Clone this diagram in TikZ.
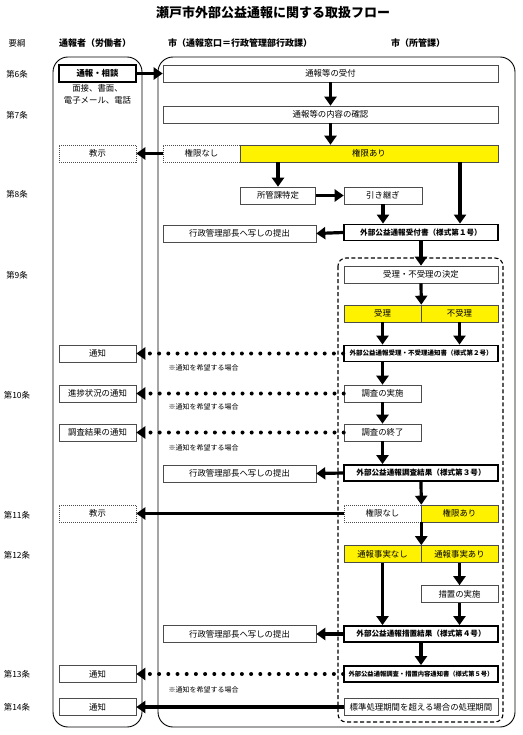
\documentclass[tikz,border=0pt]{standalone}
\usepackage{fontspec}
\setmainfont{Noto Sans CJK JP}
\usetikzlibrary{arrows.meta}
\begin{document}
\begin{tikzpicture}[x=1pt,y=-1pt,
  every node/.style={font=\fontsize{8.4}{9}\selectfont},
  box/.style={draw=black!70,line width=.6pt,fill=white,minimum height=17,inner sep=0},
  dbox/.style={box,dash pattern=on 1pt off 1pt},
  ybox/.style={box,fill=yellow},
  fbox/.style={box,draw=black,line width=1.8pt,minimum height=16,font=\fontsize{7.6}{8}\selectfont\bfseries},
  hd/.style={font=\fontsize{9}{10}\selectfont\bfseries},
  memo/.style={anchor=west,font=\fontsize{7}{8}\selectfont},
  ar/.style={line width=3.2pt,-{Triangle[width=12pt,length=9pt]}},
  dotar/.style={ar,line width=4pt,line cap=round,dash pattern=on 0pt off 9.2pt}]
\useasboundingbox (0,0) rectangle (522,735);
\draw[line width=.9pt,rounded corners=15] (53,57) rectangle (142,727);
\draw[line width=.9pt,rounded corners=15] (158,57) rectangle (515,727);
\draw[line width=1.1pt,dash pattern=on 4pt off 2.5pt,rounded corners=8] (338,258) rectangle (503,722);

\node[font=\fontsize{13}{14}\selectfont\bfseries] (tt) at (273,13) {瀬戸市外部公益通報に関する取扱フロー};
\node (h0) at (17,43) {要綱};
\node[hd] (h1) at (95,43) {通報者（労働者）};
\node[hd] (h2) at (240,43) {市（通報窓口＝行政管理部行政課）};
\node[hd] (h3) at (418,43) {市（所管課）};
\node (j6) at (17,74) {第6条};
\node (j7) at (17,115) {第7条};
\node (j8) at (17,194) {第8条};
\node (j9) at (17,275) {第9条};
\node (j10) at (17,395) {第10条};
\node (j11) at (17,515) {第11条};
\node (j12) at (17,555) {第12条};
\node (j13) at (17,674) {第13条};
\node (j14) at (17,707) {第14条};

\node[fbox,font=\fontsize{8.4}{9}\selectfont\bfseries,minimum width=77,minimum height=17] (a) at (97.5,73.5) {通報・相談};
\node (a1) at (97.5,88) {面接、書面、};
\node (a2) at (97.5,100) {電子メール、電話};
\node[box,minimum width=335] (b) at (330.5,73.5) {通報等の受付};
\node[box,minimum width=335] (c) at (330.5,114.5) {通報等の内容の確認};
\node[dbox,minimum width=77] (d) at (201.5,153.5) {権限なし};
\node[ybox,minimum width=258] (e) at (369,153.5) {権限あり};
\node[dbox,minimum width=77] (f) at (97.5,153.5) {教示};
\node[box,minimum width=75] (g) at (278,195.5) {所管課特定};
\node[box,minimum width=78] (h) at (383,195.5) {引き継ぎ};
\node[fbox,minimum width=154] (i) at (421,232.5) {外部公益通報受付書（様式第１号）};
\node[box,minimum width=153] (j) at (239.5,233.5) {行政管理部長へ写しの提出};
\node[box,minimum width=154] (k) at (421,274.5) {受理・不受理の決定};
\node[ybox,minimum width=77] (l) at (382.5,313.5) {受理};
\node[ybox,minimum width=77] (m) at (459.5,313.5) {不受理};
\node[box,minimum width=77] (n) at (97.5,353.5) {通知};
\node[fbox,minimum width=154,font=\fontsize{6.5}{7}\selectfont\bfseries] (o) at (421,353.5) {外部公益通報受理・不受理通知書（様式第２号）};
\node[memo] (n1) at (165,368) {※通知を希望する場合};
\node[box,minimum width=77] (p) at (97.5,393.5) {進捗状況の通知};
\node[box,minimum width=77] (q) at (382.5,393.5) {調査の実施};
\node[memo] (n2) at (165,407) {※通知を希望する場合};
\node[box,minimum width=77] (r) at (97.5,432.5) {調査結果の通知};
\node[box,minimum width=77] (s) at (382.5,432.5) {調査の終了};
\node[memo] (n3) at (165,448) {※通知を希望する場合};
\node[fbox,minimum width=154] (t) at (421,473) {外部公益通報調査結果（様式第３号）};
\node[box,minimum width=153] (u) at (239.5,473.5) {行政管理部長へ写しの提出};
\node[dbox,minimum width=77] (v) at (97.5,513.5) {教示};
\node[dbox,minimum width=77] (w) at (382.5,513.5) {権限なし};
\node[ybox,minimum width=77] (z) at (459.5,513.5) {権限あり};
\node[ybox,minimum width=77] (aa) at (382.5,554) {通報事実なし};
\node[ybox,minimum width=77] (ab) at (459.5,554) {通報事実あり};
\node[box,minimum width=77] (ac) at (459.5,594) {措置の実施};
\node[fbox,minimum width=154] (ad) at (421,634) {外部公益通報措置結果（様式第４号）};
\node[box,minimum width=153] (ae) at (239.5,634) {行政管理部長へ写しの提出};
\node[fbox,minimum width=154,font=\fontsize{6.3}{7}\selectfont\bfseries] (af) at (421,674) {外部公益通報調査・措置内容通知書（様式第５号）};
\node[box,minimum width=77] (ag) at (97.5,674) {通知};
\node[memo] (n4) at (165,690) {※通知を希望する場合};
\node[box,minimum width=154] (ah) at (421,707) {標準処理期間を超える場合の処理期間};
\node[box,minimum width=77] (ai) at (97.5,707) {通知};
\coordinate (e2) at ([xshift=91]e.south);

\draw[ar] (a) -- (b);
\draw[ar] (b) -- (c);
\draw[ar] (c.south) -- (c.south |- e.north);
\draw[ar] (d) -- (f);
\draw[ar] (e.south -| g.north) -- (g.north);
\draw[ar] (g) -- (h);
\draw[ar] (h.south) -- (h.south |- i.north);
\draw[ar] (e2) -- (e2 |- i.north);
\draw[ar] (i.west) -- (j.east);
\draw[ar] (i) -- (k);
\draw[ar] (k.south) -- (l.north east);
\draw[ar] (l.south) -- (l.south |- o.north);
\draw[ar] (m.south) -- (m.south |- o.north);
\draw[dotar] (o.west) -- (n.east);
\draw[ar] (q.north |- o.south) -- (q.north);
\draw[dotar] (q.west) -- (p.east);
\draw[ar] (q) -- (s);
\draw[dotar] (s.west) -- (r.east);
\draw[ar] (s.south) -- (s.south |- t.north);
\draw[ar] (t.west) -- (u.east);
\draw[ar] (t.south) -- (w.north east);
\draw[ar] (w.west) -- (v.east);
\draw[ar] (w.south east) -- (aa.north east);
\draw[ar] (aa.south) -- (aa.south |- ad.north);
\draw[ar] (ab) -- (ac);
\draw[ar] (ac.south) -- (ac.south |- ad.north);
\draw[ar] (ad.west) -- (ae.east);
\draw[ar] (ad) -- (af);
\draw[dotar] (af.west) -- (ag.east);
\draw[ar] (ah.west) -- (ai.east);
\end{tikzpicture}
\end{document}
